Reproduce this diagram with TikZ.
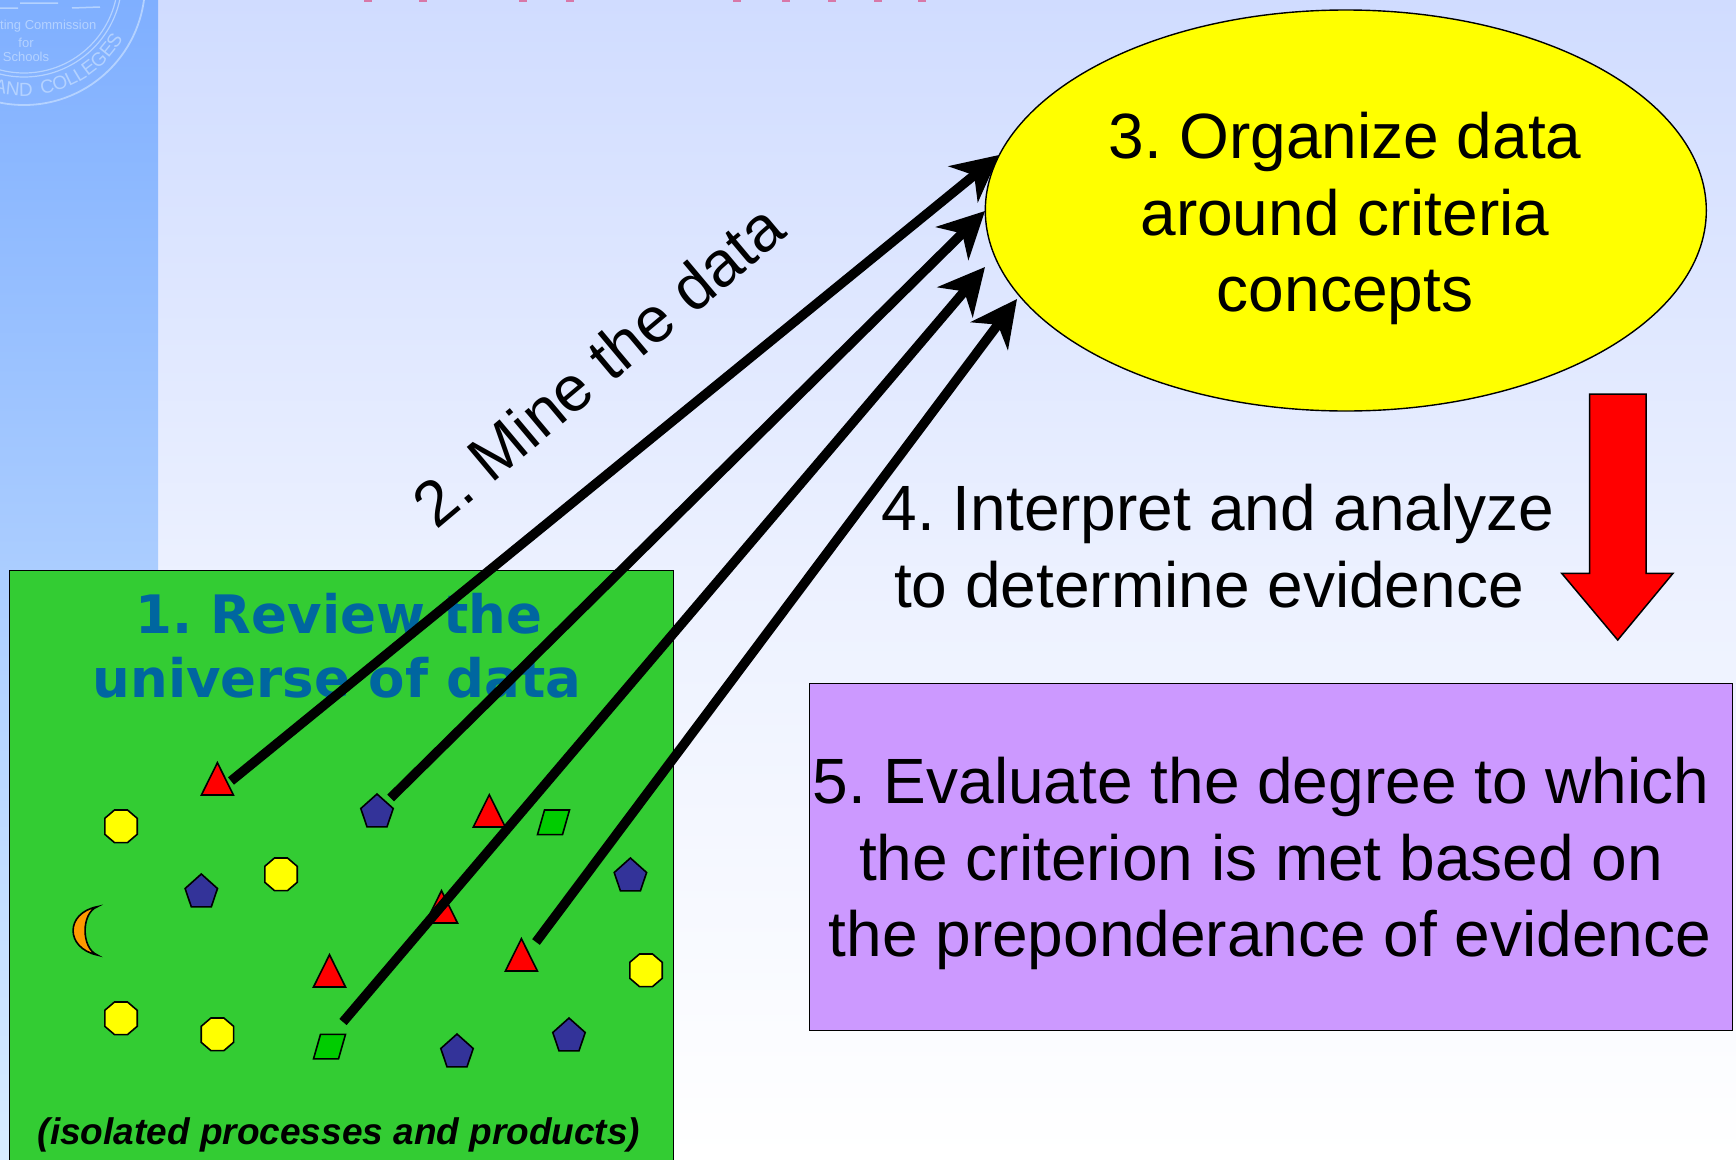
\documentclass[tikz,border=0pt]{standalone}
\usepackage{fontspec}
\setmainfont{Liberation Sans}
\newfontfamily\verd{DejaVu Sans}
\newfontfamily\sealfont[LetterSpace=20]{Liberation Sans}
\usetikzlibrary{arrows.meta,shapes.geometric,calc,decorations.text}
\definecolor{bgtop}{HTML}{D0DCFF}
\definecolor{sidetop}{HTML}{7FAFFF}
\definecolor{sidebot}{HTML}{D8ECFF}
\definecolor{sealc}{HTML}{B4D2FF}
\definecolor{grn}{HTML}{33CC33}
\definecolor{prp}{HTML}{CC99FF}
\definecolor{navy}{HTML}{333399}
\definecolor{ttl}{HTML}{0066A0}
\definecolor{pink}{HTML}{D878A8}
\definecolor{yel}{HTML}{FFFF00}
\definecolor{rd}{HTML}{FF0000}
\definecolor{para}{HTML}{00CC00}
\definecolor{moonc}{HTML}{FF9900}
\tikzset{
  shp/.style={draw=black,line width=1.6pt,line join=miter},
  big/.style={font=\fontsize{64}{76.5}\selectfont,align=center,text=black,inner sep=0pt},
  ttlt/.style={text=ttl,font=\verd\bfseries\fontsize{53}{64}\selectfont,inner sep=0pt,anchor=base},
  sealt/.style={text=sealc,font=\fontsize{13}{16}\selectfont,inner sep=0pt},
  mine/.style={line width=9.5pt,-{Stealth[length=46pt,width=46pt,inset=14pt]},black},
  boxl/.style={draw=black,line width=1.4pt}
}
\newcommand\tricat[3]{\coordinate (#1) at (#2,#3);\draw[shp,fill=rd,shift={(#2,#3)}] (0,-16.3)--(16,16)--(-16,16)--cycle;}
\newcommand\octat[3]{\coordinate (#1) at (#2,#3);\draw[shp,fill=yel,shift={(#2,#3)}] (-6.5,-16.3)--(6.5,-16.3)--(16.2,-8)--(16.2,8)--(6.5,16.3)--(-6.5,16.3)--(-16.2,8)--(-16.2,-8)--cycle;}
\newcommand\penat[3]{\coordinate (#1) at (#2,#3);\draw[shp,fill=navy,shift={(#2,#3)}] (0,-16.5)--(16.2,-2)--(10,16.3)--(-10,16.3)--(-16.2,-2)--cycle;}
\newcommand\parat[3]{\coordinate (#1) at (#2,#3);\draw[shp,fill=para,shift={(#2,#3)}] (-9,-12.3)--(16,-12.3)--(9,12.3)--(-16,12.3)--cycle;}
\begin{document}
\frenchspacing
\begin{tikzpicture}[x=1pt,y=-1pt]
\useasboundingbox (0,0) rectangle (1736,1159);
% background
\shade[top color=bgtop,bottom color=white,middle color=bgtop!40!white] (0,0) rectangle (1736,1159);
\shade[top color=sidetop,bottom color=sidebot] (0,0) rectangle (158,1159);
% seal
\begin{scope}
\clip (0,0) rectangle (158,115);
\draw[sealc,line width=1.8pt] (24,-16) circle[radius=121];
\draw[sealc,line width=1.2pt] (24,-21) circle[radius=98];
\draw[sealc,line width=1.2pt] (24,-21) circle[radius=94];
\draw[sealc,line width=1.5pt] (20,3)--(58,3) (0,8)--(18,8) (72,8)--(100,7);
\begin{scope}[y=1pt]
\path[decorate,decoration={text along path,text align={left},text={|\sealfont\fontsize{19}{19}\selectfont\color{sealc}|AND COLLEGES}}]
  (-7,-91.7) arc[start angle=-105.8,end angle=10,radius=114pt];
\end{scope}
\end{scope}
\node[sealt,anchor=west] (seal1) at (0,26) {ting Commission};
\node[sealt] (seal2) at (26,42.5) {for};
\node[sealt] (seal3) at (26,57) {Schools};
% title pieces cut by the edge
\foreach \x in {368,423,523,570,737,786,832,878,922}
  \fill[pink] (\x-4,0) rectangle (\x+4,1.6);
% green box
\node[boxl,fill=grn,anchor=north west,minimum width=663.5pt,minimum height=600pt,inner sep=0pt] (universe) at (9,570) {};
\node[ttlt] (review) at (339,633) {1. Review the};
\node[ttlt] (review2) at (337,697) {universe of data};
\node[font=\bfseries\itshape\fontsize{37}{44}\selectfont,inner sep=0pt,anchor=base] (iso) at (339,1144) {(isolated processes and products)};
% shapes
\tricat{t1}{217.4}{779}
\tricat{t2}{489.3}{811}
\tricat{t3}{441.5}{907}
\tricat{t4}{329.5}{971}
\tricat{t5}{521.4}{955}
\octat{o1}{121}{826.3}
\octat{o2}{281}{874.3}
\octat{o3}{121}{1018.3}
\octat{o4}{217.4}{1034.3}
\octat{o5}{646}{970.3}
\penat{p1}{377}{810.5}
\penat{p2}{201.3}{890.5}
\penat{p3}{630.4}{874.5}
\penat{p4}{457}{1050.5}
\penat{p5}{569}{1034.5}
\parat{g1}{553.5}{822.3}
\parat{g2}{329.5}{1046.6}
\draw[shp,fill=moonc] (97.3,906.7) .. controls (65,913) and (65,948) .. (97.3,955) .. controls (81,948) and (81,913) .. cycle;
% ellipse and box
\node[draw=black,line width=1.4pt,fill=yel,ellipse,minimum width=721pt,minimum height=401pt,inner sep=0pt] (organize) at (1345.8,210.5) {};
\node[big,anchor=base] (o1t) at (1345,158) {3. Organize data};
\node[big,anchor=base] (o2t) at (1345,235) {around criteria};
\node[big,anchor=base] (o3t) at (1345,311) {concepts};
\node[boxl,fill=prp,anchor=north west,minimum width=923pt,minimum height=347pt,inner sep=0pt] (evaluate) at (809,682.5) {};
\node[big,anchor=base] (e1) at (1261,803) {5. Evaluate the degree to which};
\node[big,anchor=base] (e2) at (1261,880) {the criterion is met based on};
\node[big,anchor=base] (e3) at (1270,956) {the preponderance of evidence};
\node[big,anchor=base] (i1) at (1218,530) {4. Interpret and analyze};
\node[big,anchor=base] (i2) at (1209,607) {to determine evidence};
\node[big,rotate=40,anchor=center] (mine) at (598,365) {2. Mine the data};
% arrows
\coordinate (a1s) at (231,781); \coordinate (a1e) at (999,155);
\coordinate (a2s) at (390.6,798); \coordinate (a2e) at (985,211);
\coordinate (a3s) at (343,1022); \coordinate (a3e) at (985,267);
\coordinate (a4s) at (536,942); \coordinate (a4e) at (1017,299);
\draw[mine] (a1s)--(a1e);
\draw[mine] (a2s)--(a2e);
\draw[mine] (a3s)--(a3e);
\draw[mine] (a4s)--(a4e);
% red block arrow
\draw[draw=black,line width=1.5pt,fill=rd] (1589.5,394)--(1646,394)--(1646,573.3)--(1673,573.3)--(1617.7,640)--(1561.7,573.3)--(1589.5,573.3)--cycle;
\end{tikzpicture}
\end{document}
